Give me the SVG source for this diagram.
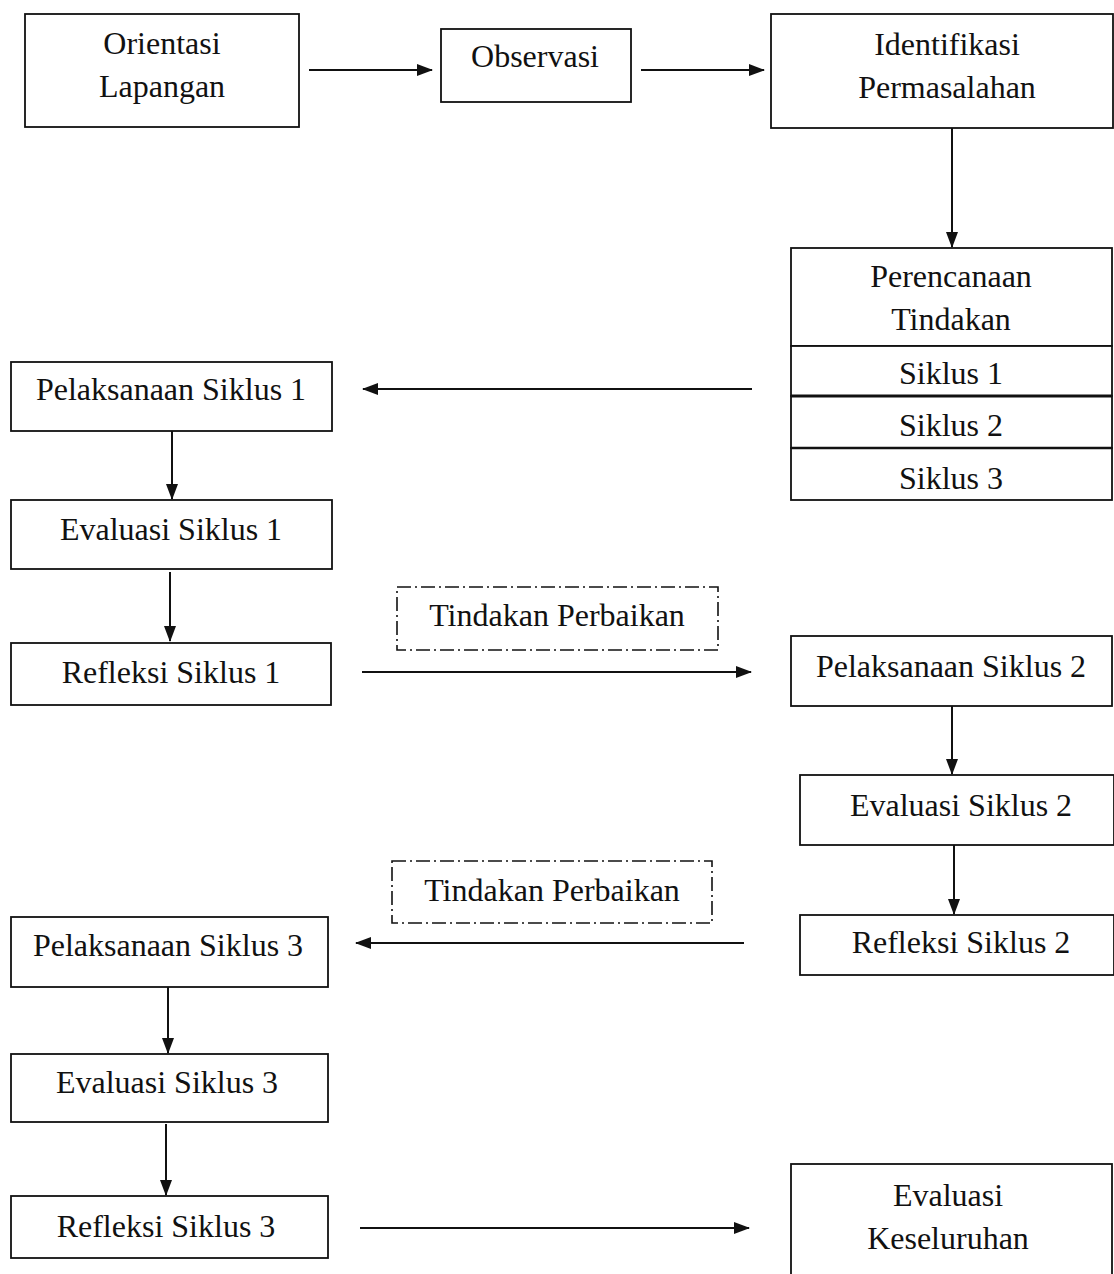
<svg xmlns="http://www.w3.org/2000/svg" width="1114" height="1274" viewBox="0 0 1114 1274">
<style>
.b{fill:#fff;stroke:#111;stroke-width:1.8}
.d{fill:none;stroke:#111;stroke-width:1.6;stroke-dasharray:14 4 2 4}
.t{font-family:"Liberation Serif","Times New Roman",serif;font-size:32px;fill:#111;text-anchor:middle}
.c{stroke:#111;stroke-width:2;fill:none;marker-end:url(#ah)}
</style>
<defs>
<marker id="ah" viewBox="0 0 16 12" refX="15" refY="6" markerWidth="16" markerHeight="12" markerUnits="userSpaceOnUse" orient="auto">
<path d="M0,0 L16,6 L0,12 Z" fill="#111"/>
</marker>
</defs>
<rect width="1114" height="1274" fill="#fff"/>
<g id="connectors">
<line class="c" x1="309" y1="70" x2="432" y2="70"/>
<line class="c" x1="641" y1="70" x2="764" y2="70"/>
<line class="c" x1="952" y1="128" x2="952" y2="247"/>
<line class="c" x1="752" y1="389" x2="363" y2="389"/>
<line class="c" x1="172" y1="431" x2="172" y2="499"/>
<line class="c" x1="170" y1="572" x2="170" y2="641"/>
<line class="c" x1="362" y1="672" x2="751" y2="672"/>
<line class="c" x1="952" y1="706" x2="952" y2="774"/>
<line class="c" x1="954" y1="845" x2="954" y2="914"/>
<line class="c" x1="744" y1="943" x2="356" y2="943"/>
<line class="c" x1="168" y1="987" x2="168" y2="1053"/>
<line class="c" x1="166" y1="1124" x2="166" y2="1195"/>
<line class="c" x1="360" y1="1228" x2="749" y2="1228"/>
</g>
<g id="orientasi"><rect class="b" x="25" y="14" width="274" height="113"/><text class="t" x="162" y="54">Orientasi</text><text class="t" x="162" y="97">Lapangan</text></g>
<g id="observasi"><rect class="b" x="441" y="29" width="190" height="73"/><text class="t" x="535" y="67">Observasi</text></g>
<g id="identifikasi"><rect class="b" x="771" y="14" width="342" height="114"/><text class="t" x="947" y="55">Identifikasi</text><text class="t" x="947" y="98">Permasalahan</text></g>
<g id="perencanaan">
<rect class="b" x="791" y="248" width="321" height="98"/><text class="t" x="951" y="287">Perencanaan</text><text class="t" x="951" y="330">Tindakan</text>
<rect class="b" x="791" y="346" width="321" height="50"/><text class="t" x="951" y="384">Siklus 1</text>
<rect class="b" x="791" y="396" width="321" height="52"/><text class="t" x="951" y="436">Siklus 2</text>
<rect class="b" x="791" y="448" width="321" height="52"/><text class="t" x="951" y="489">Siklus 3</text>
<line x1="791" y1="396" x2="1112" y2="396" stroke="#111" stroke-width="3"/>
<line x1="791" y1="448" x2="1112" y2="448" stroke="#111" stroke-width="2.5"/>
</g>
<g id="pelaksanaan1"><rect class="b" x="11" y="362" width="321" height="69"/><text class="t" x="171" y="400">Pelaksanaan Siklus 1</text></g>
<g id="evaluasi1"><rect class="b" x="11" y="500" width="321" height="69"/><text class="t" x="171" y="540">Evaluasi Siklus 1</text></g>
<g id="refleksi1"><rect class="b" x="11" y="643" width="320" height="62"/><text class="t" x="171" y="683">Refleksi Siklus 1</text></g>
<g id="perbaikan1"><rect class="d" x="397" y="587" width="321" height="63"/><text class="t" x="557" y="626">Tindakan Perbaikan</text></g>
<g id="pelaksanaan2"><rect class="b" x="791" y="636" width="321" height="70"/><text class="t" x="951" y="677">Pelaksanaan Siklus 2</text></g>
<g id="evaluasi2"><rect class="b" x="800" y="775" width="314" height="70"/><text class="t" x="961" y="816">Evaluasi Siklus 2</text></g>
<g id="refleksi2"><rect class="b" x="800" y="915" width="314" height="60"/><text class="t" x="961" y="953">Refleksi Siklus 2</text></g>
<g id="perbaikan2"><rect class="d" x="392" y="861" width="320" height="62"/><text class="t" x="552" y="901">Tindakan Perbaikan</text></g>
<g id="pelaksanaan3"><rect class="b" x="11" y="917" width="317" height="70"/><text class="t" x="168" y="956">Pelaksanaan Siklus 3</text></g>
<g id="evaluasi3"><rect class="b" x="11" y="1054" width="317" height="68"/><text class="t" x="167" y="1093">Evaluasi Siklus 3</text></g>
<g id="refleksi3"><rect class="b" x="11" y="1196" width="317" height="62"/><text class="t" x="166" y="1237">Refleksi Siklus 3</text></g>
<g id="evaluasiKeseluruhan"><rect class="b" x="791" y="1164" width="321" height="120"/><text class="t" x="948" y="1206">Evaluasi</text><text class="t" x="948" y="1249">Keseluruhan</text></g>
</svg>
